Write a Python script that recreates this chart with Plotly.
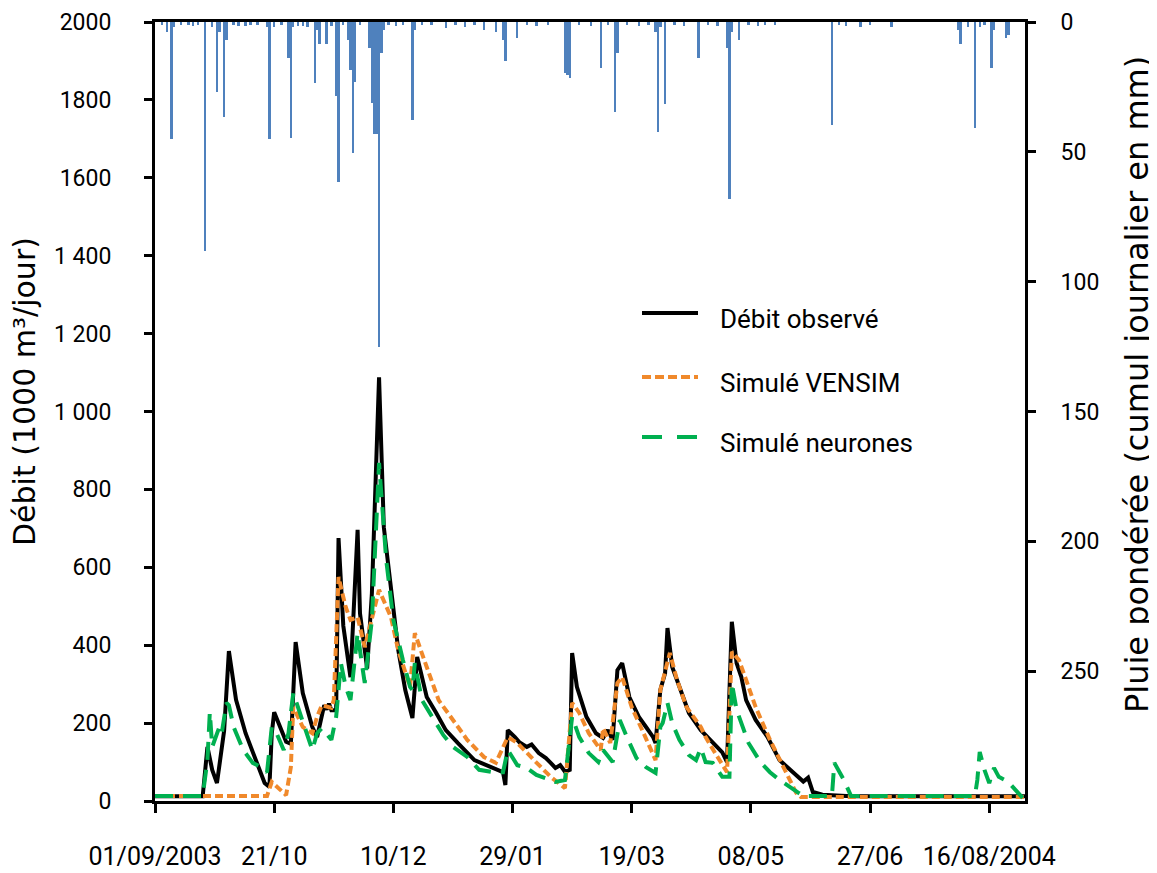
import pandas as pd
import plotly.graph_objects as go

START = pd.Timestamp("2003-09-01")

# ---- Débit observé (day offset from 01/09/2003, 1000 m3/jour)
obs_day = [0, 20, 22, 24, 26, 28, 29, 31, 34, 38, 43, 46, 48, 49, 50, 53, 55, 57, 59, 62, 66, 68, 70, 71, 72, 73,
           74, 76, 77, 79, 82, 85, 86, 89, 91, 94, 96, 99, 102, 105, 108, 110, 114, 118, 122, 127, 134, 141, 146,
           147, 148, 151, 153, 156, 158, 161, 164, 166, 168, 170, 172, 174, 175, 177, 181, 185, 188, 190, 192, 194,
           196, 199, 203, 206, 209, 210, 212, 214, 215, 217, 220, 224, 229, 234, 238, 240, 242, 244, 246, 248, 252,
           257, 262, 268, 272, 274, 276, 280, 292, 365]
obs_val = [12, 12, 139, 80, 46, 139, 180, 385, 260, 174, 98, 46, 36, 174, 228, 180, 152, 147, 408, 277, 190, 164,
           225, 246, 235, 250, 233, 233, 675, 450, 318, 696, 482, 340, 534, 1088, 703, 542, 390, 285, 213, 370, 267,
           226, 182, 149, 105, 87, 74, 41, 182, 164, 150, 139, 145, 123, 110, 98, 85, 92, 75, 80, 380, 293, 216,
           174, 162, 182, 157, 336, 354, 267, 216, 190, 164, 149, 285, 328, 444, 344, 293, 226, 182, 149, 125, 100,
           460, 354, 318, 259, 208, 164, 105, 72, 50, 60, 23, 16, 12, 12]

# ---- Simulé VENSIM
ven_day = [0, 47, 49, 53, 55, 57, 58, 62, 66, 68, 70, 74, 75, 77, 80, 82, 85, 88, 94, 99, 102, 107, 109, 114, 119,
           125, 131, 138, 143, 148, 152, 159, 166, 172, 175, 178, 182, 187, 188, 191, 194, 196, 200, 205, 210, 212,
           215, 216, 219, 223, 229, 231, 235, 240, 242, 245, 248, 252, 258, 264, 269, 271, 365]
ven_val = [13, 13, 49, 28, 15, 87, 241, 190, 174, 216, 246, 239, 259, 575, 498, 465, 472, 395, 542, 472, 388, 293,
           431, 344, 259, 208, 157, 113, 98, 164, 149, 105, 62, 33, 252, 226, 174, 131, 187, 149, 303, 318, 241,
           174, 105, 285, 354, 380, 311, 241, 190, 164, 123, 74, 383, 362, 311, 241, 157, 80, 21, 10, 10]

# ---- Simulé neurones
neu_day = [0, 20, 22, 23, 24, 27, 28, 30, 31, 33, 37, 41, 45, 47, 49, 51, 54, 56, 58, 62, 66, 68, 70, 74, 76, 78,
           80, 82, 85, 87, 88, 91, 93, 94, 97, 100, 104, 107, 108, 109, 112, 117, 121, 125, 131, 136, 142, 146, 148,
           152, 156, 160, 164, 168, 172, 175, 178, 182, 186, 188, 192, 195, 198, 202, 206, 210, 212, 213, 215, 217,
           220, 224, 227, 229, 231, 234, 238, 241, 242, 244, 246, 249, 254, 258, 262, 266, 270, 272, 284, 285, 289,
           292, 344, 345, 346, 348, 350, 352, 354, 358, 360, 364]
neu_val = [13, 13, 105, 228, 139, 190, 174, 252, 246, 190, 131, 98, 85, 74, 190, 174, 131, 174, 277, 200, 131, 174,
           187, 157, 216, 354, 293, 259, 431, 344, 303, 465, 747, 868, 619, 465, 362, 293, 285, 354, 259, 208, 169,
           139, 113, 80, 74, 74, 131, 92, 85, 67, 59, 49, 54, 216, 164, 123, 100, 131, 100, 208, 164, 110, 87, 72,
           190, 200, 252, 200, 157, 118, 105, 136, 100, 98, 62, 62, 303, 234, 200, 149, 100, 74, 54, 36, 21, 13, 13,
           98, 54, 13, 13, 54, 126, 80, 46, 85, 62, 49, 35, 8]

# ---- Pluie pondérée (mm/jour)
rain_day = [3, 5, 7, 8, 11, 14, 16, 18, 21, 24, 26, 27, 29, 30, 33, 35, 38, 40, 43, 47, 48, 50, 53, 56, 57, 58, 60,
            62, 64, 67, 68, 69, 72, 74, 76, 77, 79, 81, 82, 83, 84, 86, 90, 91, 92, 93, 94, 95, 96, 98, 101, 104,
            108, 109, 112, 116, 122, 126, 130, 134, 138, 143, 146, 147, 152, 156, 160, 165, 172, 173, 174, 178, 183,
            187, 190, 193, 194, 198, 203, 207, 210, 211, 212, 214, 218, 222, 228, 232, 236, 240, 241, 242, 245, 249,
            253, 256, 260, 284, 287, 290, 296, 300, 309, 337, 338, 341, 344, 346, 348, 351, 352, 357, 358]
rain_mm = [1, 4, 45, 2, 1, 1, 1.5, 1, 88, 2, 27, 4, 36.5, 7, 1, 1.5, 1.5, 1, 1, 2, 45, 2, 1, 14, 44.5, 2, 1.5, 1.5,
           2, 23.5, 3, 8.5, 8.5, 1.5, 28.5, 61.5, 1, 7, 18.5, 50.5, 23, 1, 10, 31, 43, 43, 125, 12, 3, 1, 1.5, 1,
           37.7, 3, 1, 1, 2.5, 1, 2, 1, 3, 4, 7, 15, 6, 1, 1.5, 1, 19.5, 20.5, 21.5, 1, 1.5, 17.7, 1, 34.6, 12, 1,
           1.5, 1, 4, 42.3, 2, 31.5, 1, 1.5, 14, 1, 1.5, 10, 68, 4, 7, 1, 1.5, 1, 1, 39.6, 1, 1.5, 2, 1, 2, 3, 8.5,
           2, 41, 2, 1, 17.7, 3, 6, 5]

# ---- Axis ticks
x_tick_days = [0, 50, 100, 150, 200, 250, 300, 350]
x_tick_text = ["01/09/2003", "21/10", "10/12", "29/01", "19/03", "08/05", "27/06", "16/08/2004"]
y_tick_vals = [0, 200, 400, 600, 800, 1000, 1200, 1400, 1600, 1800, 2000]
y_tick_text = ["0", "200", "400", "600", "800", "1 000", "1 200", "1 400", "1600", "1800", "2000"]
y2_tick_vals = [0, 50, 100, 150, 200, 250]

legend_names = ["Débit observé", "Simulé VENSIM", "Simulé neurones"]


def to_dates(days):
    return [START + pd.Timedelta(days=d) for d in days]


NARROW = "Liberation Sans Narrow, Arial Narrow, Roboto, sans-serif"
WIDE = "DejaVu Sans, Verdana, sans-serif"

C_OBS = "#000000"
C_VEN = "#F0892B"
C_NEU = "#00B050"
C_RAIN = "#4F81BD"

fig = go.Figure()

fig.add_trace(go.Bar(x=to_dates(rain_day), y=rain_mm, yaxis="y2", marker=dict(color=C_RAIN, line=dict(width=0)),
                     width=1.0 * 86400000, name="Pluie", showlegend=False))

fig.add_trace(go.Scatter(x=to_dates(obs_day), y=obs_val, mode="lines", name=legend_names[0],
                         line=dict(color=C_OBS, width=4), showlegend=False))
fig.add_trace(go.Scatter(x=to_dates(ven_day), y=ven_val, mode="lines", name=legend_names[1],
                         line=dict(color=C_VEN, width=4, dash="8px,4px"), showlegend=False))
fig.add_trace(go.Scatter(x=to_dates(neu_day), y=neu_val, mode="lines", name=legend_names[2],
                         line=dict(color=C_NEU, width=4, dash="18px,10px"), showlegend=False))

# page has an 8px body margin: figure is offset by 8px in x and y
OFF = 8
W, H = 1157 - OFF, 873 - OFF
L, R, T, B = 155 - OFF, 132, 22 - OFF, 72
PW, PH = W - L - R, H - T - B


def px(x):  # page pixel -> paper
    return (x - OFF - L) / PW


def py(y):
    return (H - B - (y - OFF)) / PH


# manual legend
leg_rows = [313, 377, 437]
leg_styles = [dict(color=C_OBS, width=4, dash="solid"),
              dict(color=C_VEN, width=4, dash="9px,4px"),
              dict(color=C_NEU, width=4, dash="20px,15px")]
shapes = []
annotations = []
for name, yy, st in zip(legend_names, leg_rows, leg_styles):
    shapes.append(dict(type="line", xref="paper", yref="paper", x0=px(642), x1=px(698), y0=py(yy), y1=py(yy),
                       line=st))
    annotations.append(dict(text=name, xref="paper", yref="paper", x=px(718), y=py(yy + 6), xanchor="left",
                            yanchor="middle", showarrow=False, font=dict(family=NARROW, size=26, color="black")))

annotations.append(dict(text="Débit (1000 m³/jour)", xref="paper", yref="paper", x=px(24), y=py(392),
                        textangle=-90, showarrow=False, xanchor="center", yanchor="middle",
                        font=dict(family=WIDE, size=30, color="black")))
annotations.append(dict(text="Pluie pondérée (cumul journalier en mm)", xref="paper", yref="paper", x=px(1137),
                        y=py(385), textangle=-90, showarrow=False, xanchor="center", yanchor="middle",
                        font=dict(family=WIDE, size=32, color="black")))

fig.update_layout(
    width=W, height=H,
    margin=dict(l=L, r=R, t=T, b=B, pad=0, autoexpand=False),
    paper_bgcolor="white", plot_bgcolor="white",
    showlegend=False,
    bargap=0,
    shapes=shapes,
    annotations=annotations,
    xaxis=dict(type="date", range=[START, START + pd.Timedelta(days=365)], automargin=False,
               tickvals=to_dates(x_tick_days), ticktext=x_tick_text,
               showline=True, linecolor="black", linewidth=3, mirror=True,
               ticks="outside", ticklen=9, tickwidth=3, tickcolor="black",
               showgrid=False, zeroline=False, ticklabelstandoff=22,
               tickfont=dict(family=NARROW, size=25, color="black")),
    yaxis=dict(range=[0, 2000], tickvals=y_tick_vals, ticktext=y_tick_text, automargin=False,
               showline=True, linecolor="black", linewidth=3,
               ticks="outside", ticklen=8, tickwidth=3, tickcolor="black",
               showgrid=False, zeroline=False, ticklabelstandoff=28,
               tickfont=dict(family=NARROW, size=23, color="black")),
    yaxis2=dict(range=[300, 0], overlaying="y", side="right", tickvals=y2_tick_vals, automargin=False,
                showline=True, linecolor="black", linewidth=3,
                ticks="outside", ticklen=8, tickwidth=3, tickcolor="black",
                showgrid=False, zeroline=False, ticklabelstandoff=20,
                tickfont=dict(family=NARROW, size=23, color="black")),
)

fig.write_html("out.html")
